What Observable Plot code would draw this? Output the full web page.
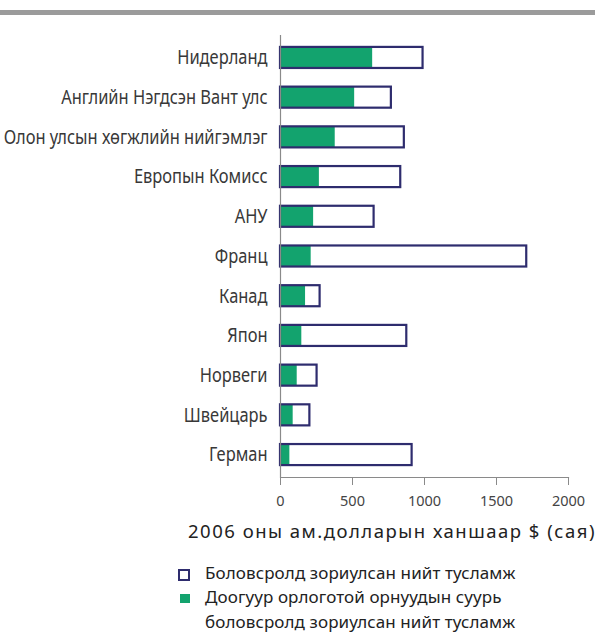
<!DOCTYPE html>
<html>
<head>
<meta charset="utf-8">
<script src="https://cdn.jsdelivr.net/npm/d3@7"></script>
<script src="https://cdn.jsdelivr.net/npm/@observablehq/plot@0.6"></script>
<style>
  html, body { margin: 0; padding: 0; background: #fff; }
  body { width: 595px; height: 632px; position: relative; overflow: hidden; font-family: "Noto Sans", sans-serif; color: #222; }
  #topbar { position: absolute; left: 0; top: 10px; width: 595px; height: 5px; background: #9b9b9b; }
  #chart { position: absolute; left: 0; top: 0; }
  #xtitle { position: absolute; left: 188px; top: 518px; font-size: 18.5px; letter-spacing: 1.5px; white-space: nowrap; color: #222; }
  .leg { position: absolute; left: 205px; font-size: 17px; letter-spacing: 0.1px; white-space: nowrap; color: #222; line-height: 1; }
  .sw1 { position: absolute; left: 178px; top: 569px; width: 8px; height: 8px; border: 2.5px solid #2e2c6e; background: #fff; }
  .sw2 { position: absolute; left: 180px; top: 594px; width: 10px; height: 9px; background: #13a36e; }
</style>
</head>
<body>
<div id="topbar"></div>
<div id="chart"></div>
<div id="xtitle">2006 оны ам.долларын ханшаар $ (сая)</div>
<div class="sw1"></div>
<div class="leg" style="top:564px">Боловсролд зориулсан нийт тусламж</div>
<div class="sw2"></div>
<div class="leg" style="top:588px">Доогуур орлоготой орнуудын суурь</div>
<div class="leg" style="top:613px">боловсролд зориулсан нийт тусламж</div>
<script>
const donors = ["Нидерланд", "Английн Нэгдсэн Вант улс", "Олон улсын хөгжлийн нийгэмлэг", "Европын Комисс", "АНУ", "Франц", "Канад", "Япон", "Норвеги", "Швейцарь", "Герман"];
const totalAid = [990, 770, 860, 835, 650, 1710, 275, 877, 254, 204, 914];
const basicLowIncome = [640, 515, 380, 270, 230, 213, 174, 148, 116, 88, 65];
const xTicks = [0, 500, 1000, 1500, 2000];

const data = donors.map((d, i) => ({donor: d, total: totalAid[i], basic: basicLowIncome[i]}));

const navy = "#2e2c6e";
const green = "#13a36e";

const chart = Plot.plot({
  width: 595,
  height: 510,
  marginLeft: 280,
  marginRight: 27,
  marginTop: 35,
  marginBottom: 33,
  style: {fontFamily: "Noto Sans, sans-serif", background: "transparent"},
  x: {domain: [0, 2000], ticks: xTicks},
  y: {domain: donors, paddingInner: 0.47, paddingOuter: 0.3, round: false},
  marks: [
    Plot.barX(data, {y: "donor", x: "total", fill: "white"}),
    Plot.barX(data, {y: "donor", x: "basic", fill: green}),
    Plot.barX(data, {y: "donor", x: "total", fill: "none", stroke: navy, strokeWidth: 2.2}),
    Plot.ruleX([0], {stroke: "#8a8a8a", strokeWidth: 1.2}),
    Plot.frame({anchor: "bottom", stroke: "#8a8a8a", strokeWidth: 1.2}),
    Plot.axisX({ticks: xTicks, tickSize: 8, tickPadding: 10, fontSize: 14.5, label: null, stroke: "#8a8a8a", fill: "#444", tickFormat: d => String(d)}),
    Plot.axisY({tickSize: 0, tickPadding: 13, fontSize: 20, label: null, fill: "#383838"})
  ]
});
document.getElementById("chart").appendChild(chart);

// condense the category labels to the narrow face of the reference
const labels = d3.select(chart).selectAll("text").filter(function() { return donors.includes(this.textContent); });
let maxLen = 0;
labels.each(function() { maxLen = Math.max(maxLen, this.getComputedTextLength()); });
const k = 264 / maxLen;
labels.each(function() {
  const t = this.getAttribute("transform");
  if (t && t.includes("translate")) {
    this.setAttribute("transform", t + ` scale(${k},1)`);
  } else {
    const x = +this.getAttribute("x") || 0, y = +this.getAttribute("y") || 0;
    this.removeAttribute("x"); this.removeAttribute("y");
    this.setAttribute("transform", `translate(${x},${y}) scale(${k},1)`);
  }
});
</script>
</body>
</html>
